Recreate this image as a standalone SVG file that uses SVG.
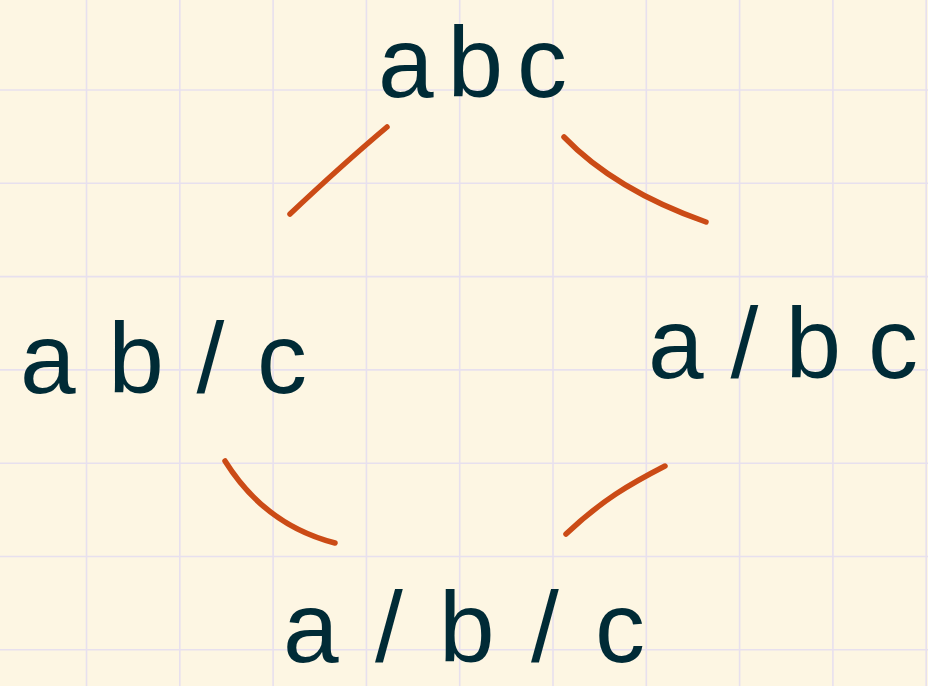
<svg xmlns="http://www.w3.org/2000/svg" width="928" height="686" viewBox="0 0 928 686">
<style>
.grid line{stroke:#e7e0ee;stroke-width:1.6}
.lbl{font-family:"Liberation Sans","DejaVu Sans",sans-serif;font-size:100px;fill:#002b36}
.edge{fill:none;stroke:#cb4b16;stroke-width:5.5;stroke-linecap:round;stroke-linejoin:round}
</style>
<rect width="928" height="686" fill="#fdf6e3"/>
<g class="grid">
<line x1="86.5" y1="0" x2="86.5" y2="686"/>
<line x1="179.8" y1="0" x2="179.8" y2="686"/>
<line x1="273.1" y1="0" x2="273.1" y2="686"/>
<line x1="366.4" y1="0" x2="366.4" y2="686"/>
<line x1="459.7" y1="0" x2="459.7" y2="686"/>
<line x1="553" y1="0" x2="553" y2="686"/>
<line x1="646.3" y1="0" x2="646.3" y2="686"/>
<line x1="739.6" y1="0" x2="739.6" y2="686"/>
<line x1="832.9" y1="0" x2="832.9" y2="686"/>
<line x1="926.2" y1="0" x2="926.2" y2="686"/>
<line x1="0" y1="90" x2="928" y2="90"/>
<line x1="0" y1="183.3" x2="928" y2="183.3"/>
<line x1="0" y1="276.6" x2="928" y2="276.6"/>
<line x1="0" y1="369.9" x2="928" y2="369.9"/>
<line x1="0" y1="463.2" x2="928" y2="463.2"/>
<line x1="0" y1="556.5" x2="928" y2="556.5"/>
<line x1="0" y1="649.8" x2="928" y2="649.8"/>
</g>
<g id="connectors">
<path class="edge" d="M387,127 Q343,164 290,214"/>
<path class="edge" d="M564,137 Q615,190 706,222"/>
<path class="edge" d="M225,461 Q265,525 335,543"/>
<path class="edge" d="M665,466 C630,484 602,500 566,534"/>
</g>
<g id="node-abc"><text class="lbl" x="378" y="97" textLength="189" lengthAdjust="spacing">abc</text></g>
<g id="node-ab-c"><text class="lbl" x="20" y="393" textLength="287" lengthAdjust="spacing">ab/c</text></g>
<g id="node-a-bc"><text class="lbl" x="648" y="378" textLength="270" lengthAdjust="spacing">a/bc</text></g>
<g id="node-a-b-c"><text class="lbl" x="283" y="662" textLength="362" lengthAdjust="spacing">a/b/c</text></g>
</svg>
